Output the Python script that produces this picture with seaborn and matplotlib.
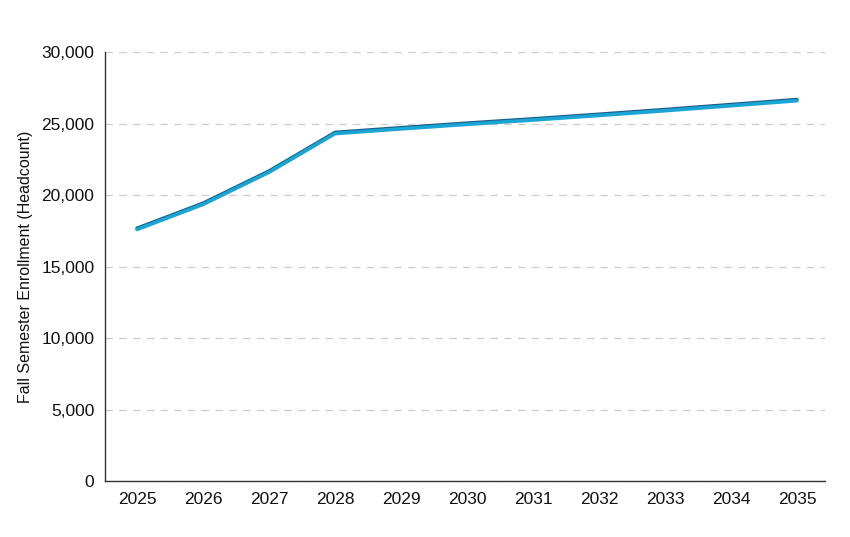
import numpy as np
import pandas as pd
import matplotlib
matplotlib.use('Agg')
import matplotlib.pyplot as plt
import seaborn as sns
from matplotlib.ticker import FuncFormatter

# ---- data ----
years = [2025, 2026, 2027, 2028, 2029, 2030, 2031, 2032, 2033, 2034, 2035]
enroll_a = [17600, 19350, 21600, 24300, 24630, 24950, 25250, 25570, 25900, 26250, 26600]
enroll_b = [17680, 19430, 21680, 24380, 24710, 25030, 25330, 25650, 25980, 26330, 26680]

df = pd.DataFrame({'Year': years + years,
                   'Enrollment': enroll_a + enroll_b,
                   'Series': ['a'] * len(years) + ['b'] * len(years)})

sns.set_theme(style='white')
plt.rcParams['font.family'] = ['Liberation Sans', 'DejaVu Sans']

fig, ax = plt.subplots(figsize=(8.5, 5.37), dpi=100)
fig.subplots_adjust(left=0.124, right=0.971, top=0.903, bottom=0.104)

sns.lineplot(data=df[df.Series == 'b'], x='Year', y='Enrollment', color='#1d5e86',
             linewidth=2.6, ax=ax)
sns.lineplot(data=df[df.Series == 'a'], x='Year', y='Enrollment', color='#1aa6d4',
             linewidth=2.6, ax=ax)

ax.set_ylim(0, 30000)
ax.set_xlim(2024.52, 2035.43)
ax.set_xticks(years)
ax.set_yticks(np.arange(0, 30001, 5000))
ax.yaxis.set_major_formatter(FuncFormatter(lambda v, p: f'{int(v):,}'))
ax.grid(axis='y', linestyle=(0, (6, 5)), color='#cccccc', linewidth=0.9)
ax.set_axisbelow(True)

for s in ['top', 'right']:
    ax.spines[s].set_visible(False)
for s in ['left', 'bottom']:
    ax.spines[s].set_color('#333333')
    ax.spines[s].set_linewidth(1.0)

ax.tick_params(axis='both', length=0, labelsize=12.5, colors='#111111', pad=8)
ax.set_xlabel('')
ax.set_ylabel('Fall Semester Enrollment (Headcount)', fontsize=11.5, color='#111111',
              labelpad=6)

plt.savefig('out.png', dpi=100)
